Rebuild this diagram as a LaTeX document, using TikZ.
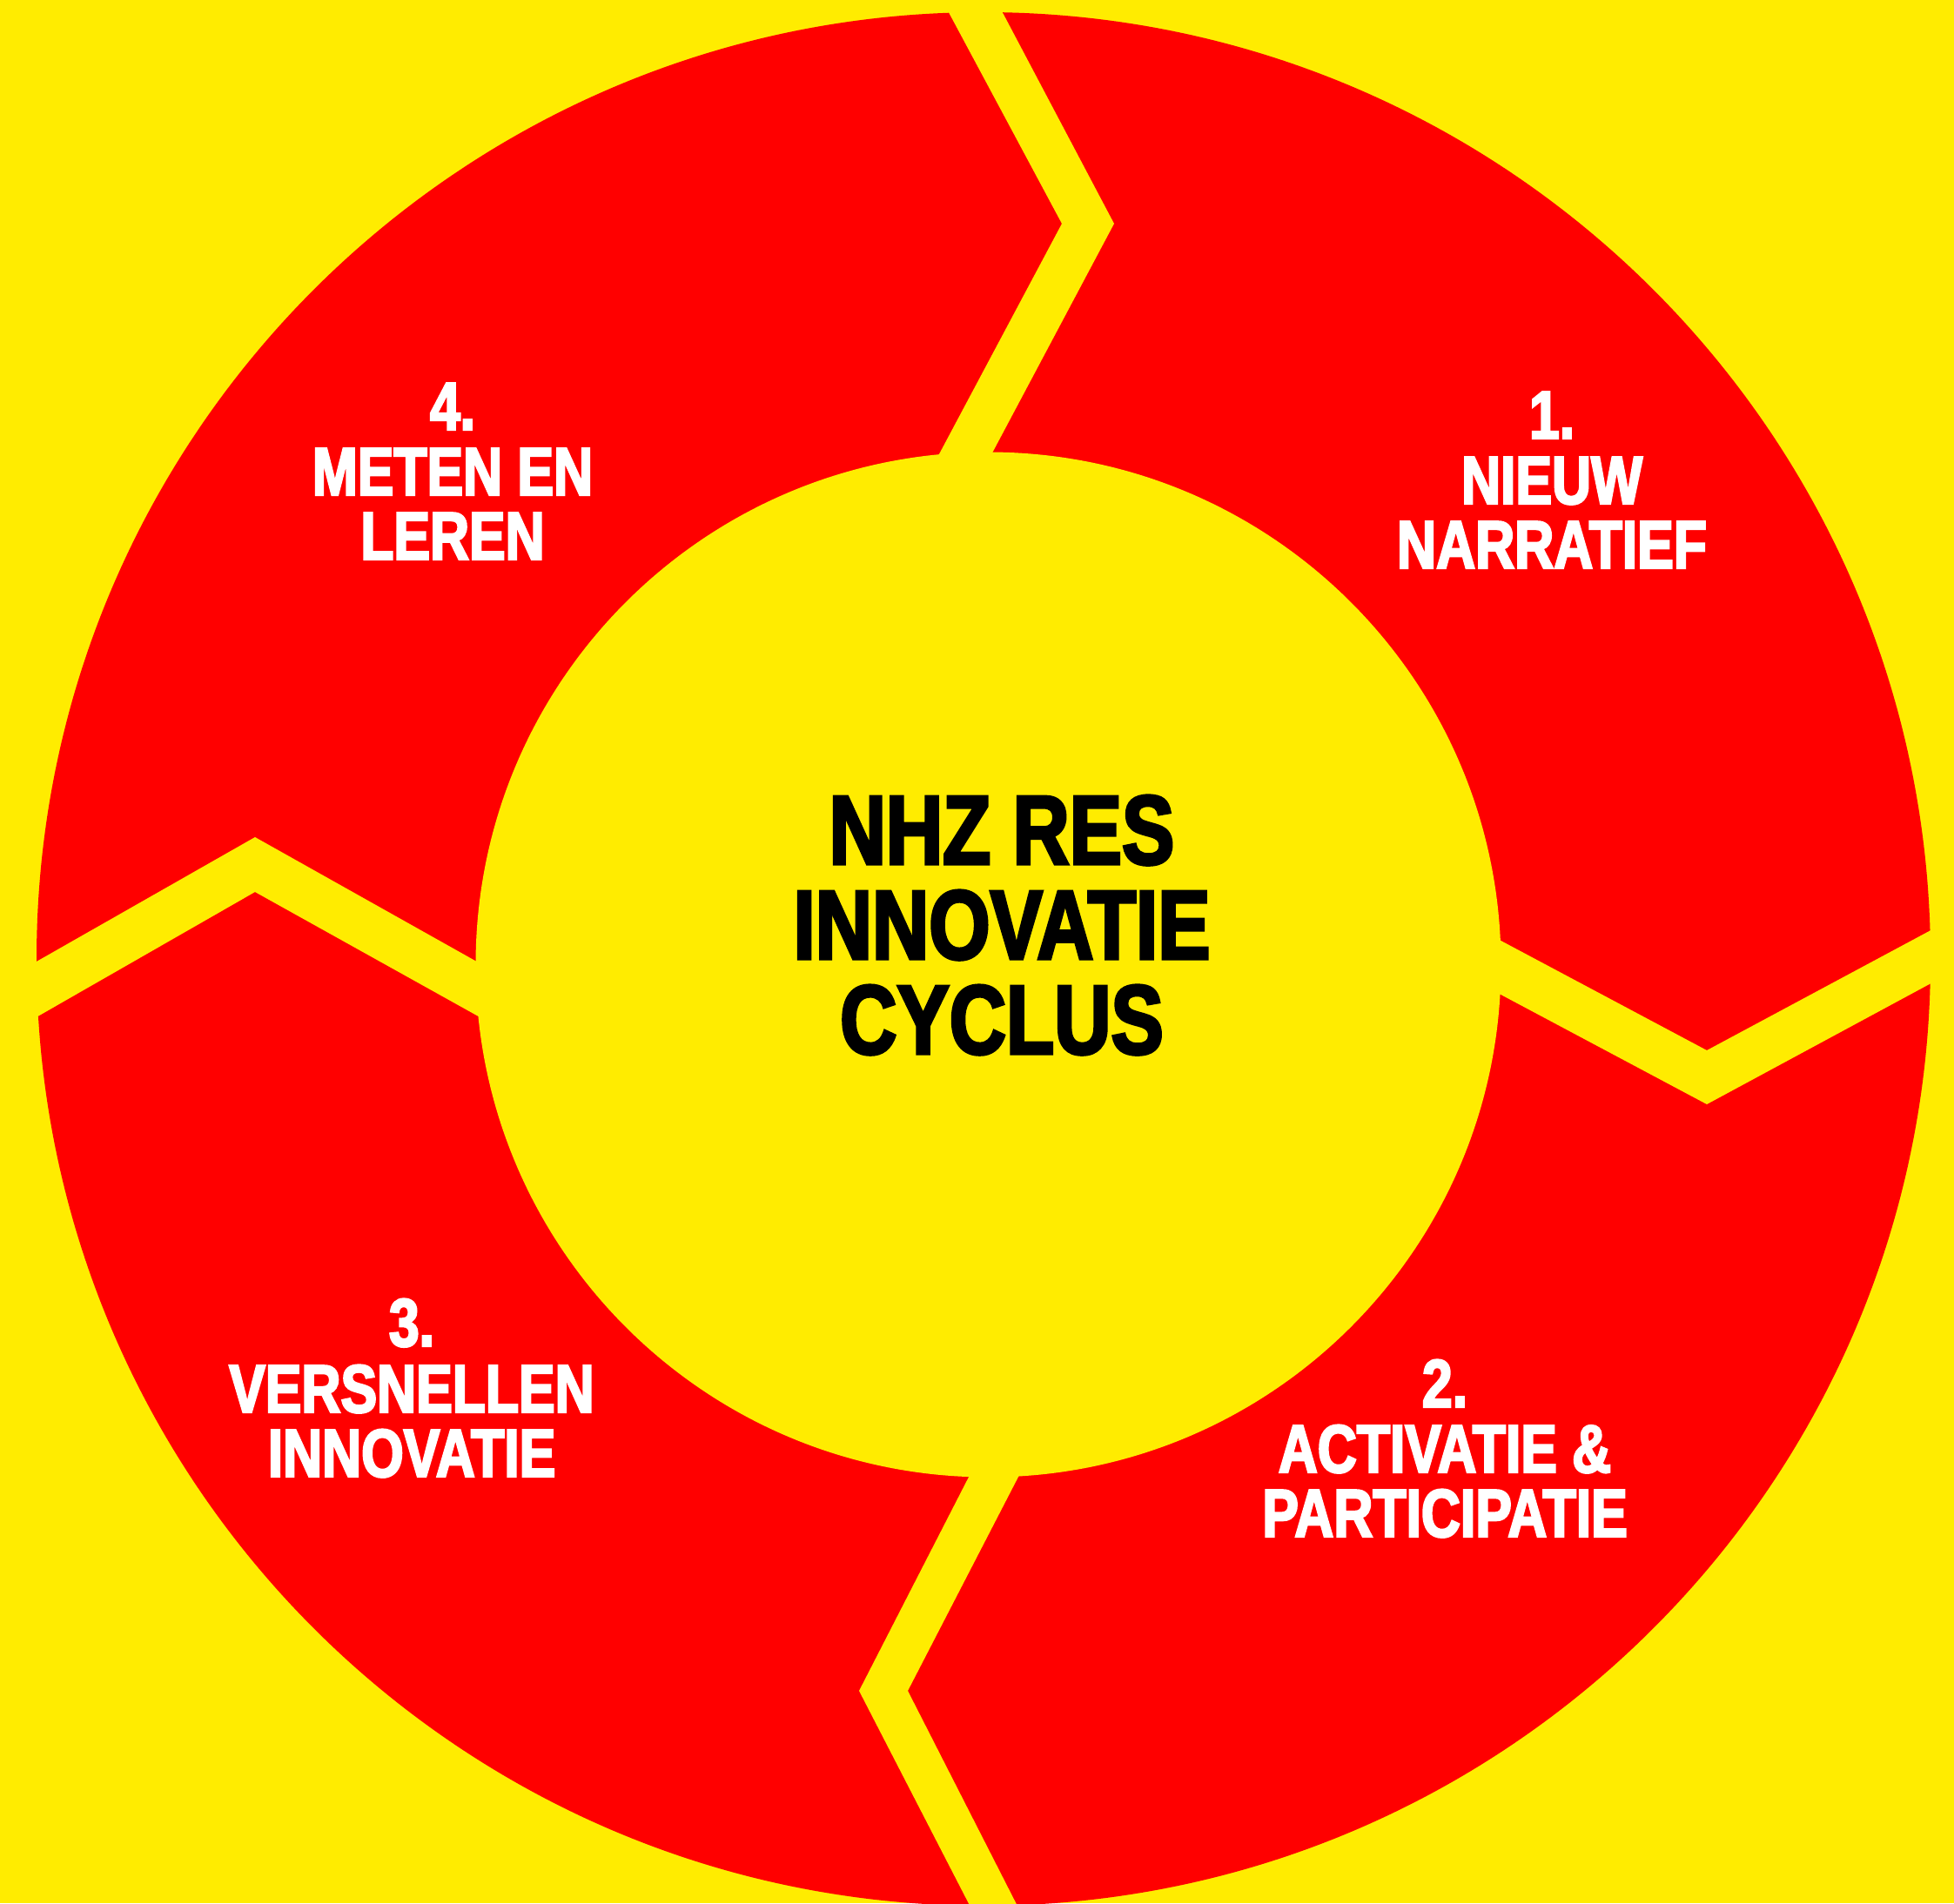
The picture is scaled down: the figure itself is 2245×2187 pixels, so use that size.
\documentclass[tikz,border=0pt]{standalone}
\usepackage{fontspec}
\newfontfamily\condfont{Liberation Sans Bold}[FakeStretch=0.8, FakeBold=3]
\definecolor{ringred}{RGB}{255,0,0}
\definecolor{bgyellow}{RGB}{255,236,0}
\begin{document}
\begin{tikzpicture}[x=1pt,y=-1pt,
  lab/.style={text=white, font=\condfont\fontsize{78}{75}\selectfont, anchor=base, inner sep=0pt},
  ctr/.style={text=black, font=\condfont\fontsize{113}{109}\selectfont, anchor=base, inner sep=0pt},
  gapfill/.style={fill=bgyellow}]
\useasboundingbox (0,0) rectangle (2245,2187);
\clip (0,0) rectangle (2245,2187);
\fill[bgyellow] (0,0) rectangle (2245,2187);
% ring
\fill[ringred] (1130,1102) circle[radius=1088pt];
\fill[bgyellow] (1135.5,1108.5) circle[radius=589pt];
% chevron gaps
\fill[gapfill] (1077,-10) -- (1220,257) -- (1064,550) -- (1127,545) -- (1280,257) -- (1139,-10) -- cycle;
\fill[gapfill] (1700,1068) -- (1961,1207) -- (2250,1052) -- (2250,1113) -- (1961,1269) -- (1700,1130) -- cycle;
\fill[gapfill] (1127,1670) -- (987,1943) -- (1122,2205) -- (1179,2210) -- (1043,1943) -- (1184,1670) -- cycle;
\fill[gapfill] (5,1126) -- (293,962) -- (578,1122) -- (582,1186) -- (293,1025) -- (5,1190) -- cycle;
% center title
\node[ctr] (t1) at (1151,993) {NHZ RES};
\node[ctr] (t2) at (1151,1102) {INNOVATIE};
\node[ctr] (t3) at (1151,1211) {CYCLUS};
% label 1
\node[lab] (a1) at (1783,504) {1.};
\node[lab] (a2) at (1783,579) {NIEUW};
\node[lab] (a3) at (1783,653) {NARRATIEF};
% label 2
\node[lab] (b1) at (1660,1617) {2.};
\node[lab] (b2) at (1660,1692) {ACTIVATIE \&};
\node[lab] (b3) at (1660,1766) {PARTICIPATIE};
% label 3
\node[lab] (c1) at (473,1547) {3.};
\node[lab] (c2) at (473,1623) {VERSNELLEN};
\node[lab] (c3) at (473,1697) {INNOVATIE};
% label 4
\node[lab] (d1) at (520,494) {4.};
\node[lab] (d2) at (520,569) {METEN EN};
\node[lab] (d3) at (520,643) {LEREN};
\end{tikzpicture}
\end{document}
